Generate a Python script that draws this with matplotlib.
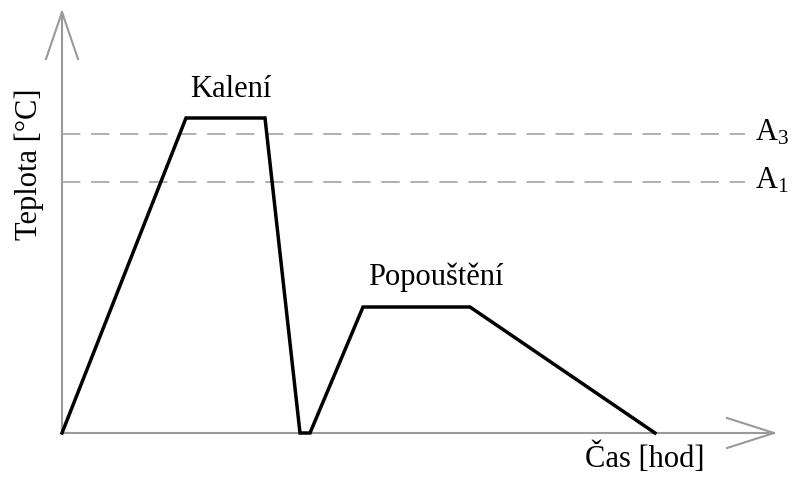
import matplotlib.pyplot as plt
import numpy as np

plt.rcParams['font.family'] = ['Liberation Serif', 'DejaVu Serif']
plt.rcParams['mathtext.fontset'] = 'custom'
plt.rcParams['mathtext.rm'] = 'Liberation Serif'
plt.rcParams['mathtext.it'] = 'Liberation Serif'

# heat treatment profile (arbitrary units, time vs temperature)
cas = [0, 124, 203, 238, 248, 301, 408, 593]
teplota = [0, 315, 315, 0, 0, 126, 126, 0]
a3 = 299
a1 = 251
x_max = 712
y_max = 421

fig = plt.figure(figsize=(7.92, 4.86), dpi=100)
ax = fig.add_axes([0, 0, 1, 1])
ax.set_xlim(-62, 730)
ax.set_ylim(-53, 433)
ax.axis('off')

gray = '#9a9a9a'
# axes with open arrow heads
ax.plot([0, x_max], [0, 0], color=gray, lw=1.5)
ax.plot([x_max - 47, x_max, x_max - 47], [15, 0, -15], color=gray, lw=1.5)
ax.plot([0, 0], [0, y_max], color=gray, lw=1.5)
ax.plot([-16, 0, 16], [y_max - 47, y_max, y_max - 47], color=gray, lw=1.5)

# critical temperatures
ax.plot([0, 683], [a3, a3], color=gray, lw=1.1, dashes=(12, 7))
ax.plot([0, 683], [a1, a1], color=gray, lw=1.1, dashes=(12, 7))
ax.text(693, a3 + 1, 'A$_3$', fontsize=22, va='center', ha='left')
ax.text(693, a1 + 1, 'A$_1$', fontsize=22, va='center', ha='left')

ax.plot(cas, teplota, color='black', lw=2.5, solid_joinstyle='miter')

ax.text(169, 336, 'Kalení', fontsize=22, ha='center', va='baseline')
ax.text(374, 148, 'Popouštění', fontsize=22, ha='center', va='baseline')
ax.text(583, -34, 'Čas [hod]', fontsize=22, ha='center', va='baseline')
ax.text(-33, 269, 'Teplota [°C]', fontsize=22, ha='center', va='center', rotation=90)

fig.savefig('out.png', dpi=100)
